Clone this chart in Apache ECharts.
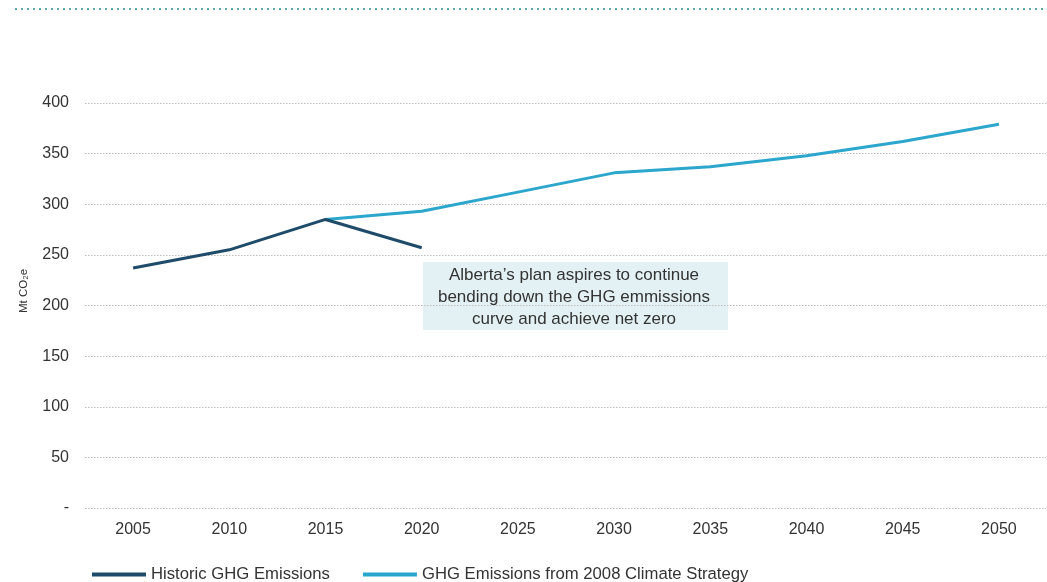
<!DOCTYPE html>
<html>
<head>
<meta charset="utf-8">
<script src="https://cdn.jsdelivr.net/npm/echarts@6/dist/echarts.min.js"></script>
<style>
html,body{margin:0;padding:0;background:#fff;}
#chart{width:1047px;height:582px;}
</style>
</head>
<body>
<div id="chart"></div>
<script>
// ---- data ----
const tickYears = [2005, 2010, 2015, 2020, 2025, 2030, 2035, 2040, 2045, 2050];
const yTicks = [0, 50, 100, 150, 200, 250, 300, 350, 400];
const historicYears = [2005, 2010, 2015, 2020];
const historicValues = [237, 255, 285, 257];
const strategyYears = [2015, 2020, 2025, 2030, 2035, 2040, 2045, 2050];
const strategyValues = [285, 293, 312, 331, 337, 348, 362, 379];
const seriesNames = ['Historic GHG Emissions', 'GHG Emissions from 2008 Climate Strategy'];
const yAxisName = 'Mt CO\u2082e';
const noteText = 'Alberta\u2019s plan aspires to continue\nbending down the GHG emmissions\ncurve and achieve net zero';

const font = '"Liberation Sans", Arial, sans-serif';
const chart = echarts.init(document.getElementById('chart'), null, {renderer: 'canvas'});

chart.setOption({
  animation: false,
  backgroundColor: '#ffffff',
  textStyle: {fontFamily: font},
  grid: {left: 85, right: 0, top: 103, bottom: 74, containLabel: false},
  xAxis: {
    type: 'value',
    min: 2002.5,
    max: 2052.5,
    axisLine: {show: false},
    axisTick: {show: false},
    splitLine: {show: false},
    axisLabel: {
      customValues: tickYears,
      color: '#333',
      fontSize: 16,
      margin: 14,
      fontFamily: font,
      formatter: v => String(v)
    }
  },
  yAxis: {
    type: 'value',
    min: 0,
    max: 400,
    interval: 50,
    axisLine: {show: false},
    axisTick: {show: false},
    axisLabel: {
      color: '#333',
      fontSize: 16,
      margin: 16,
      fontFamily: font,
      formatter: v => (v === 0 ? '-' : String(v))
    },
    splitLine: {show: true, lineStyle: {color: '#bdbdbd', type: [1.5, 1.5], width: 1}}
  },
  legend: {
    left: 87,
    top: 561,
    itemWidth: 54,
    itemHeight: 4,
    itemGap: 33,
    icon: 'rect',
    textStyle: {color: '#333', fontSize: 16.7, fontFamily: font},
    data: seriesNames
  },
  series: [
    {
      name: seriesNames[1],
      type: 'line',
      symbol: 'none',
      z: 2,
      lineStyle: {color: '#2ba6cc', width: 3},
      itemStyle: {color: '#2ba6cc'},
      data: strategyYears.map((y, i) => [y, strategyValues[i]])
    },
    {
      name: seriesNames[0],
      type: 'line',
      symbol: 'none',
      z: 3,
      lineStyle: {color: '#1f4b6b', width: 3},
      itemStyle: {color: '#1f4b6b'},
      data: historicYears.map((y, i) => [y, historicValues[i]])
    }
  ],
  graphic: [
    {
      type: 'line',
      shape: {x1: 15, y1: 9, x2: 1047, y2: 9},
      style: {stroke: '#5fa5ae', lineWidth: 2, lineDash: [2, 4]}
    },
    {
      type: 'text',
      x: 24,
      y: 291,
      rotation: Math.PI / 2,
      style: {
        text: yAxisName,
        fill: '#333',
        font: '11.5px ' + font,
        align: 'center',
        verticalAlign: 'middle'
      }
    },
    {
      type: 'rect',
      shape: {x: 423, y: 262, width: 305, height: 68},
      style: {fill: '#e4f1f4'}
    },
    {
      type: 'text',
      x: 574,
      y: 297,
      style: {
        text: noteText,
        fill: '#333',
        font: '17px ' + font,
        align: 'center',
        verticalAlign: 'middle',
        lineHeight: 22
      }
    }
  ]
});
</script>
</body>
</html>
